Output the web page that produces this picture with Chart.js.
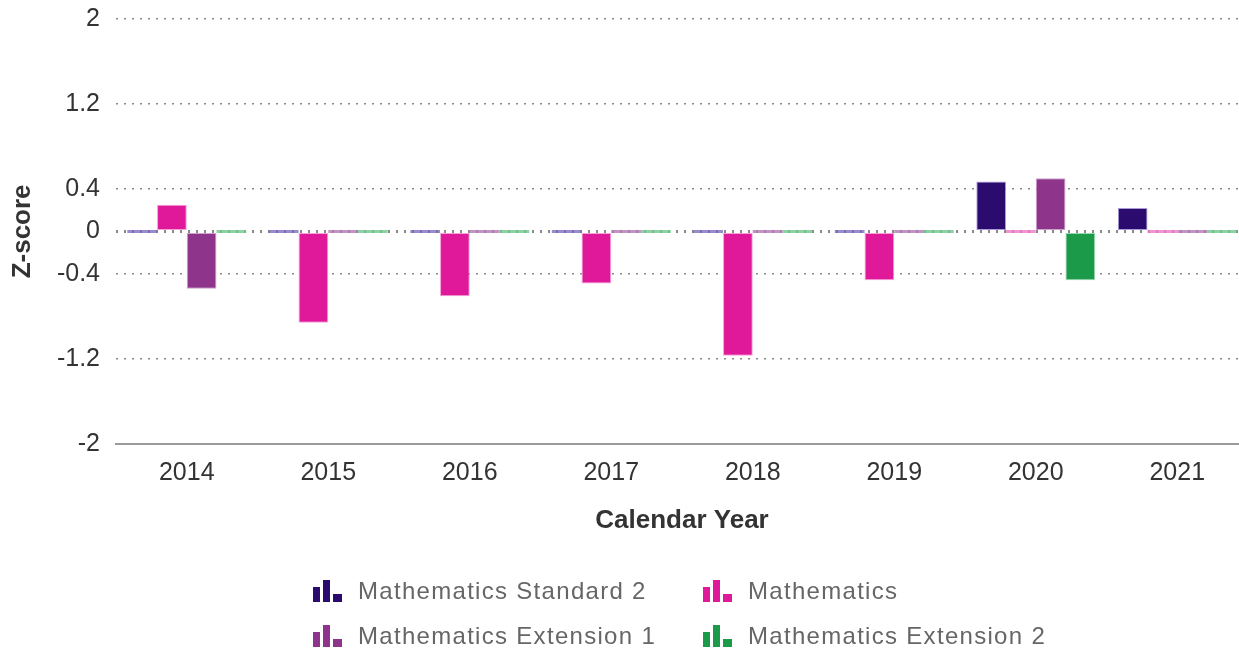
<!DOCTYPE html>
<html>
<head>
<meta charset="utf-8">
<script src="https://cdn.jsdelivr.net/npm/chart.js@4.4.1/dist/chart.umd.min.js"></script>
<style>
  html, body { margin: 0; padding: 0; background: #fff; overflow: hidden; width: 1239px; height: 649px; }
  #wrap { position: absolute; left: 0; top: -12px; width: 1248px; height: 554px; }
  #legend { position: absolute; left: 0; top: 0; width: 1239px; height: 649px; pointer-events: none;
    font-family: "Liberation Sans", Arial, sans-serif; font-size: 24px; letter-spacing: 1.3px; color: #666; }
  .item { position: absolute; display: flex; align-items: center; height: 30px; white-space: nowrap; }
  .icon { position: relative; width: 30px; height: 22px; margin-right: 15px; }
  .icon span { position: absolute; bottom: 0; }
</style>
</head>
<body>
<div id="wrap"><canvas id="c" width="1248" height="554"></canvas></div>
<div id="legend"></div>
<script>
// ---- data ----
const categories = ['2014', '2015', '2016', '2017', '2018', '2019', '2020', '2021'];
const seriesNames = ['Mathematics Standard 2', 'Mathematics', 'Mathematics Extension 1', 'Mathematics Extension 2'];
const std2 = [0, 0, 0, 0, 0, 0, 0.47, 0.22];
const maths = [0.25, -0.86, -0.61, -0.49, -1.17, -0.46, 0, 0];
const ext1 = [-0.54, 0, 0, 0, 0, 0, 0.50, 0];
const ext2 = [0, 0, 0, 0, 0, 0, -0.46, 0];
const yTicks = [-2, -1.2, -0.4, 0, 0.4, 1.2, 2];

// ---- styles ----
const colors = ['#2b0b6e', '#e0189a', '#8e358b', '#1b9a4a'];
const zeroColors = ['rgba(120,100,190,0.75)', 'rgba(240,120,200,0.8)', 'rgba(180,120,180,0.8)', 'rgba(110,200,140,0.8)'];
const borderColors = ['rgba(150,130,210,0.8)', 'rgba(245,150,210,0.9)', 'rgba(200,150,200,0.9)', 'rgba(140,210,165,0.9)'];
const FONT = '"Liberation Sans", Arial, Helvetica, sans-serif';

const allSeries = [std2, maths, ext1, ext2];
const datasets = allSeries.map((vals, i) => ({
  label: seriesNames[i],
  data: vals,
  backgroundColor: (ctx) => (ctx.raw === 0 ? zeroColors[i] : colors[i]),
  borderColor: (ctx) => (ctx.raw === 0 ? zeroColors[i] : borderColors[i]),
  borderWidth: (ctx) => (ctx.raw === 0 ? 0 : 1),
  borderSkipped: false,
  minBarLength: 3,
  categoryPercentage: 0.84,
  barPercentage: 1.0
}));

new Chart(document.getElementById('c'), {
  type: 'bar',
  data: { labels: categories, datasets },
  options: {
    responsive: false,
    animation: false,
    layout: { padding: { top: 3, left: 0, right: 0, bottom: 6 } },
    plugins: { legend: { display: false }, tooltip: { enabled: false } },
    scales: {
      x: {
        offset: true,
        grid: { display: false, drawTicks: false },
        border: { display: true, color: '#9a9a9a', width: 2 },
        ticks: { color: '#333', font: { family: FONT, size: 25 }, padding: 14, maxRotation: 0 },
        title: { display: true, text: 'Calendar Year', color: '#333',
                 font: { family: FONT, size: 26, weight: 'bold' }, padding: { top: 3, bottom: 0 } }
      },
      y: {
        min: -2, max: 2,
        afterBuildTicks: (scale) => { scale.ticks = yTicks.map(v => ({ value: v })); },
        afterFit: (scale) => { scale.width = 116; },
        grid: {
          drawTicks: false,
          color: (ctx) => (ctx.tick && ctx.tick.value === -2 ? 'rgba(0,0,0,0)' : '#8a8a8a'),
          lineWidth: (ctx) => (ctx.tick && ctx.tick.value === 0 ? 3 : 1.5)
        },
        border: { display: false, dash: [2, 6] },
        ticks: { color: '#333', font: { family: FONT, size: 25 }, padding: 16,
                 callback: (v) => String(v) },
        title: { display: true, text: 'Z-score', color: '#333',
                 font: { family: FONT, size: 26, weight: 'bold' }, padding: { top: 7, bottom: 0 } }
      }
    }
  }
});

// ---- legend (HTML) ----
const legendPos = [
  { x: 313, y: 576 }, { x: 703, y: 576 },
  { x: 313, y: 621 }, { x: 703, y: 621 }
];
const legendEl = document.getElementById('legend');
seriesNames.forEach((name, si) => {
  const it = document.createElement('div');
  it.className = 'item';
  it.style.left = legendPos[si].x + 'px';
  it.style.top = legendPos[si].y + 'px';
  const icon = document.createElement('div');
  icon.className = 'icon';
  [[0, 7, 15], [10, 7, 22], [20, 9, 8]].forEach(([l, w, h]) => {
    const b = document.createElement('span');
    b.style.left = l + 'px'; b.style.width = w + 'px'; b.style.height = h + 'px';
    b.style.background = colors[si];
    icon.appendChild(b);
  });
  const txt = document.createElement('span');
  txt.textContent = name;
  it.appendChild(icon);
  it.appendChild(txt);
  legendEl.appendChild(it);
});
</script>
</body>
</html>
